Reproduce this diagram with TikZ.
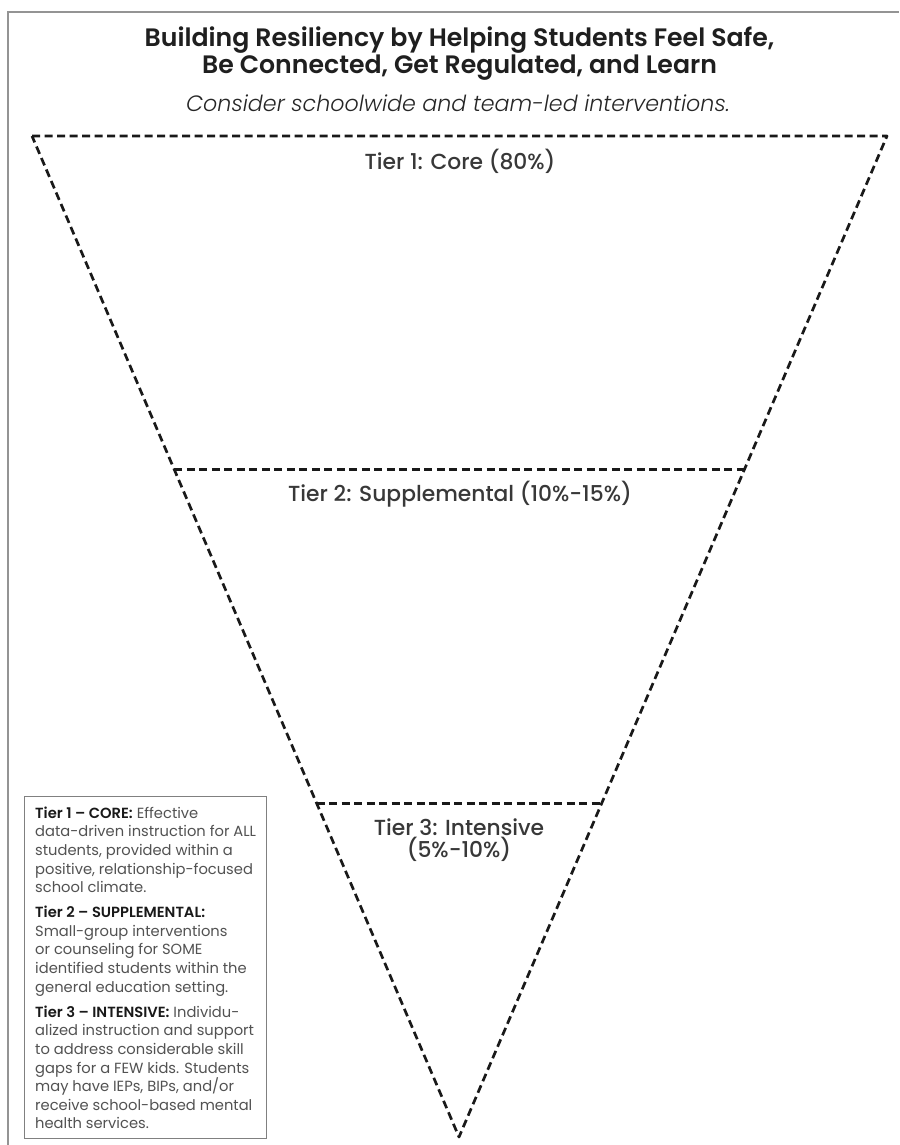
\documentclass[tikz,border=0pt]{standalone}
\usepackage{fontspec}
\setmainfont{Poppins}[BoldFont={Poppins SemiBold}, ItalicFont={Poppins Light Italic}]
\newfontfamily\tierfont{Poppins Medium}
\usetikzlibrary{calc}
\begin{document}
\begin{tikzpicture}[x=1pt,y=-1pt,
  tierline/.style={draw=black!90, line width=2.7pt, dash pattern=on 8pt off 4.5pt, line join=round},
  frameline/.style={draw=black!42, line width=1.4pt},
  titletext/.style={font=\fontsize{25.2}{28}\selectfont\bfseries, text=black!88, inner sep=0pt},
  subtext/.style={font=\fontsize{22.2}{24}\selectfont\itshape, text=black!85, inner sep=0pt},
  tierlabel/.style={font=\tierfont\fontsize{21.8}{22}\selectfont, text=black!78, inner sep=0pt},
  legendbox/.style={draw=black!50, line width=1pt},
  legendtext/.style={font=\fontsize{14.7}{18.6}\selectfont, text=black!68, align=left, inner sep=0pt}
]
\useasboundingbox (0,0) rectangle (899,1145);
\fill[white] (0,0) rectangle (899,1145);

% page frame (left and top rules)
\draw[frameline] (8,1145) -- (8,12) -- (899,12);

% titles
\node[titletext, anchor=base] (title1) at (459.5,47) {Building Resiliency by Helping Students Feel Safe,};
\node[titletext, anchor=base] (title2) at (459.5,74) {Be Connected, Get Regulated, and Learn};
\node[subtext, anchor=base] (subtitle) at (458,112) {Consider schoolwide and team-led interventions.};

% inverted pyramid
\coordinate (tl) at (32,136);
\coordinate (tr) at (887,136);
\coordinate (apex) at (459,1137);
\coordinate (t2l) at ($(tl)!1/3!(apex)$);
\coordinate (t2r) at ($(tr)!1/3!(apex)$);
\coordinate (t3l) at ($(tl)!2/3!(apex)$);
\coordinate (t3r) at ($(tr)!2/3!(apex)$);
\draw[tierline] (tl) -- (tr) -- (apex) -- cycle;
\draw[tierline] (t2l) -- (t2r);
\draw[tierline] (t3l) -- (t3r);

% tier labels
\node[tierlabel, anchor=base] (tier1) at (460,169) {Tier 1: Core (80\%)};
\node[tierlabel, anchor=base] (tier2) at (460,501) {Tier 2: Supplemental (10\%-15\%)};
\node[tierlabel, align=center, anchor=north] (tier3) at (459,819) {Tier 3: Intensive\\(5\%-10\%)};

% legend
\node[legendbox, anchor=north west, minimum width=242pt, minimum height=342pt, inner sep=0pt] (legend) at (24,796) {};
\newcommand{\hd}[1]{{\bfseries\color{black!90}#1}}
\node[legendtext, anchor=north west] (legendtext) at (35,806.5) {%
\hd{Tier 1 – CORE:} Effective\\
data-driven instruction for ALL\\
students, provided within a\\
positive, relationship-focused\\
school climate.\\[6.5pt]
\hd{Tier 2 – SUPPLEMENTAL:}\\
Small-group interventions\\
or counseling for SOME\\
identified students within the\\
general education setting.\\[6.5pt]
\hd{Tier 3 – INTENSIVE:} Individu-\\
alized instruction and support\\
to address considerable skill\\
gaps for a FEW kids. Students\\
may have IEPs, BIPs, and/or\\
receive school-based mental\\
health services.};
\end{tikzpicture}
\end{document}
